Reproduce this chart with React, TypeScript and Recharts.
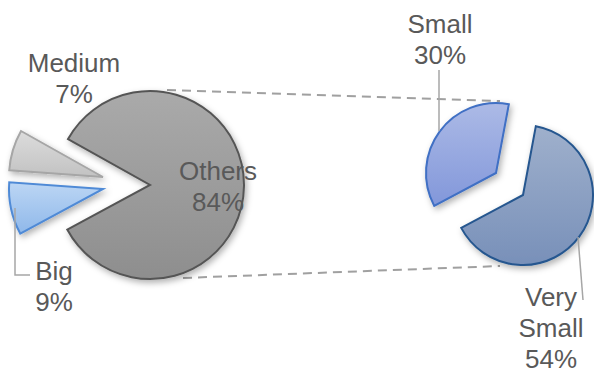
import { PieChart, Pie, Cell } from "recharts";

// left pie: company sizes, right pie: breakdown of "Others"
const mainNames = ["Big", "Medium", "Others"];
const mainValues = [9, 7, 84];
const subNames = ["Small", "Very Small"];
const subValues = [30, 54];

const mainData = mainNames.map((name, i) => ({ name, value: mainValues[i] }));
const subData = subNames.map((name, i) => ({ name, value: subValues[i] }));

const FONT = "'Liberation Sans', Arial, sans-serif";
const TEXT = "#595959";

// explode offsets + colours per slice
const sliceStyle: Record<string, { fill: string; stroke: string; dx: number; dy: number }> = {
  Big: { fill: "url(#gBig)", stroke: "#4f8ad6", dx: -47, dy: 4 },
  Medium: { fill: "url(#gMedium)", stroke: "#a6a6a6", dx: -47, dy: -8 },
  Others: { fill: "url(#gOthers)", stroke: "#555555", dx: 0, dy: 0 },
  Small: { fill: "url(#gSmall)", stroke: "#3f6fc4", dx: -13.5, dy: -11 },
  "Very Small": { fill: "url(#gVerySmall)", stroke: "#25578f", dx: 13.5, dy: 11 },
};

// hand placed labels like the original
const labelPos: Record<string, { x: number; y: number; lines: string[]; leader?: string }> = {
  Big: { x: 54, y: 280, lines: ["Big"], leader: "M15,208 L15,275 L30,275" },
  Medium: { x: 74, y: 72, lines: ["Medium"] },
  Others: { x: 218, y: 180, lines: ["Others"] },
  Small: { x: 440, y: 33, lines: ["Small"], leader: "M439,70 L439,131" },
  "Very Small": { x: 551, y: 306, lines: ["Very", "Small"], leader: "M578,237 L583,300" },
};

function renderLabel(props: any) {
  const pos = labelPos[props.name];
  if (!pos) return null;
  const lines = [...pos.lines, `${props.value}%`];
  return (
    <g>
      {pos.leader && <path d={pos.leader} stroke="#a6a6a6" strokeWidth={1.5} fill="none" />}
      {lines.map((t, i) => (
        <text
          key={i}
          x={pos.x}
          y={pos.y + i * 31}
          textAnchor="middle"
          fill={TEXT}
          fontSize={26}
          fontFamily={FONT}
        >
          {t}
        </text>
      ))}
    </g>
  );
}

function grad(id: string, top: string, bottom: string) {
  return (
    <linearGradient id={id} x1="0" y1="0" x2="0" y2="1">
      <stop offset="0%" stopColor={top} />
      <stop offset="100%" stopColor={bottom} />
    </linearGradient>
  );
}

export default function App() {
  return (
    <div style={{ position: "absolute", left: 0, top: 0, width: 594, height: 374, background: "#fff" }}>
      <PieChart width={594} height={374} margin={{ top: 0, right: 0, bottom: 0, left: 0 }}>
        <defs>
          {grad("gOthers", "#aaaaaa", "#8e8e8e")}
          {grad("gMedium", "#dcdcdc", "#c2c2c2")}
          {grad("gBig", "#bcd6f4", "#8fb8ea")}
          {grad("gSmall", "#acbae6", "#8297da")}
          {grad("gVerySmall", "#9fb0cc", "#7890b9")}
          <filter id="shadow" x="-20%" y="-20%" width="140%" height="140%">
            <feDropShadow dx="2" dy="3" stdDeviation="3" floodColor="#000" floodOpacity="0.3" />
          </filter>
        </defs>
        <line x1={167} y1={90} x2={500} y2={101} stroke="#a0a0a0" strokeWidth={2} strokeDasharray="9 6" />
        <line x1={183} y1={278} x2={500} y2={266} stroke="#a0a0a0" strokeWidth={2} strokeDasharray="9 6" />
        <Pie
          data={mainData}
          dataKey="value"
          nameKey="name"
          cx={150}
          cy={185}
          outerRadius={94}
          startAngle={208.3}
          endAngle={-151.7}
          label={renderLabel}
          labelLine={false}
          isAnimationActive={false}
        >
          {mainData.map((d) => {
            const s = sliceStyle[d.name];
            return (
              <Cell
                key={d.name}
                fill={s.fill}
                stroke={s.stroke}
                strokeWidth={2}
                transform={`translate(${s.dx},${s.dy})`}
                filter="url(#shadow)"
              />
            );
          })}
        </Pie>
        <Pie
          data={subData}
          dataKey="value"
          nameKey="name"
          cx={509.5}
          cy={184}
          outerRadius={70}
          startAngle={208}
          endAngle={-152}
          label={renderLabel}
          labelLine={false}
          isAnimationActive={false}
        >
          {subData.map((d) => {
            const s = sliceStyle[d.name];
            return (
              <Cell
                key={d.name}
                fill={s.fill}
                stroke={s.stroke}
                strokeWidth={2}
                transform={`translate(${s.dx},${s.dy})`}
                filter="url(#shadow)"
              />
            );
          })}
        </Pie>
      </PieChart>
    </div>
  );
}
